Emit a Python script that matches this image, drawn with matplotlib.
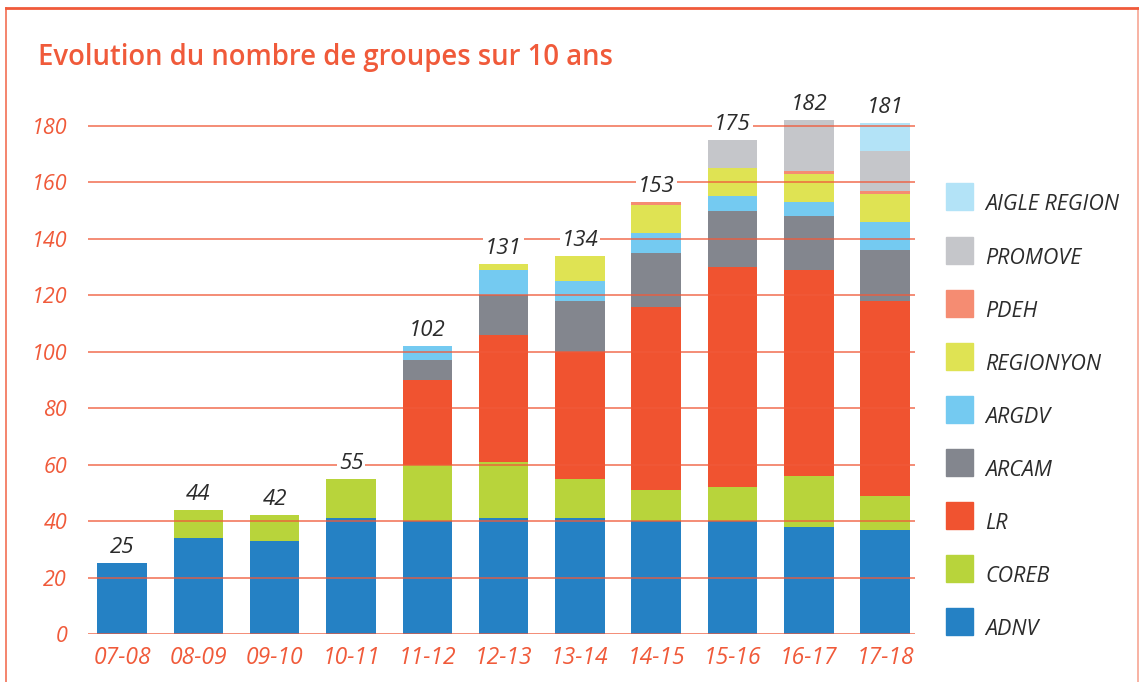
import matplotlib
matplotlib.use("Agg")
import matplotlib.pyplot as plt
from matplotlib.lines import Line2D
from matplotlib.patches import Rectangle
import numpy as np

plt.rcParams["font.family"] = ["Open Sans", "DejaVu Sans"]

seasons = ["07-08", "08-09", "09-10", "10-11", "11-12", "12-13",
           "13-14", "14-15", "15-16", "16-17", "17-18"]

# stacked from bottom to top
adnv = [25, 34, 33, 41, 40, 41, 41, 40, 40, 38, 37]
coreb = [0, 10, 9, 14, 20, 20, 14, 11, 12, 18, 12]
lr = [0, 0, 0, 0, 30, 45, 45, 65, 78, 73, 69]
arcam = [0, 0, 0, 0, 7, 14, 18, 19, 20, 19, 18]
argdv = [0, 0, 0, 0, 5, 9, 7, 7, 5, 5, 10]
regionyon = [0, 0, 0, 0, 0, 2, 9, 10, 10, 10, 10]
pdeh = [0, 0, 0, 0, 0, 0, 0, 1, 0, 1, 1]
promove = [0, 0, 0, 0, 0, 0, 0, 0, 10, 18, 14]
aigle = [0, 0, 0, 0, 0, 0, 0, 0, 0, 0, 10]

series = [
    ("ADNV", adnv, "#2581C4"),
    ("COREB", coreb, "#B8D43B"),
    ("LR", lr, "#F05330"),
    ("ARCAM", arcam, "#83868E"),
    ("ARGDV", argdv, "#74CAF1"),
    ("REGIONYON", regionyon, "#DFE353"),
    ("PDEH", pdeh, "#F58C72"),
    ("PROMOVE", promove, "#C5C6CA"),
    ("AIGLE REGION", aigle, "#B3E3F7"),
]

ORANGE = "#F05A3A"
TEXT = "#2B2B2B"

W, H = 1139, 682
fig = plt.figure(figsize=(W / 100, H / 100), dpi=100)
ax = fig.add_axes([88 / W, 48 / H, (915 - 88) / W, (634 - 92) / H])

x = np.arange(len(seasons))
bottom = np.zeros(len(seasons))
for name, vals, col in series:
    v = np.array(vals, dtype=float)
    ax.bar(x, v, bottom=bottom, width=0.65, color=col, zorder=2)
    bottom += v

# gridlines drawn over the bars, lighter where they cross
for yv in range(0, 181, 20):
    ax.axhline(yv, color=ORANGE, lw=1.3, alpha=0.75, zorder=3)

for xi, tot in zip(x, bottom):
    ax.text(xi, tot + 5.5, f"{int(tot)}", ha="center", va="center",
            fontsize=16, style="italic", color=TEXT, zorder=5,
            bbox=dict(facecolor="white", edgecolor="none", pad=1.5))

ax.set_xlim(-0.446, 10.39)
ax.set_ylim(0, 192)
ax.set_yticks(range(0, 181, 20))
ax.set_xticks(x)
ax.set_xticklabels(seasons)
ax.tick_params(length=0, labelcolor=ORANGE)
ax.tick_params(axis="y", pad=15, labelsize=15.5)
ax.tick_params(axis="x", pad=9, labelsize=16.5)
for lbl in ax.get_xticklabels() + ax.get_yticklabels():
    lbl.set_style("italic")
for s in ax.spines.values():
    s.set_visible(False)

fig.text(38 / W, 1 - 58 / H, "Evolution du nombre de groupes sur 10 ans",
         fontsize=19.8, fontweight="semibold", color=ORANGE, va="center")

# legend, top entry first
for i, (name, vals, col) in enumerate(reversed(series)):
    yc = 197 + i * 53.1
    fig.add_artist(Rectangle((946 / W, 1 - (yc + 13.5) / H), 27 / W, 27 / H,
                             transform=fig.transFigure, color=col))
    fig.text(985 / W, 1 - (yc + 8) / H, name, fontsize=15.5, style="italic",
             color=TEXT, va="center")

# frame lines
fig.add_artist(Line2D([6 / W, 1138 / W], [1 - 8 / H, 1 - 8 / H],
                      transform=fig.transFigure, color=ORANGE, lw=2))
fig.add_artist(Line2D([6 / W, 6 / W], [0, 1 - 8 / H],
                      transform=fig.transFigure, color=ORANGE, lw=1.3, alpha=0.8))
fig.add_artist(Line2D([1138 / W, 1138 / W], [0, 1 - 8 / H],
                      transform=fig.transFigure, color=ORANGE, lw=1.3, alpha=0.5))

fig.savefig("out.png", dpi=100)
